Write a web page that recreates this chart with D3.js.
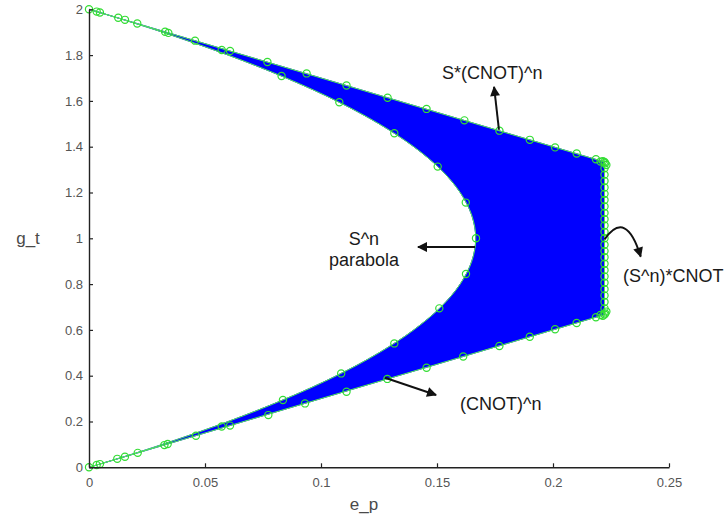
<!DOCTYPE html>
<html>
<head>
<meta charset="utf-8">
<script src="https://cdn.jsdelivr.net/npm/d3@7"></script>
<style>
	body { margin: 0; background: #fff; }
	text { font-family: "Liberation Sans", Arial, sans-serif; }
</style>
</head>
<body>
<script>
// tick values and labels
var xTicks = [0, 0.05, 0.1, 0.15, 0.2, 0.25];
var xTickLabels = ["0", "0.05", "0.1", "0.15", "0.2", "0.25"];
var yTicks = [0, 0.2, 0.4, 0.6, 0.8, 1, 1.2, 1.4, 1.6, 1.8, 2];
var yTickLabels = ["0", "0.2", "0.4", "0.6", "0.8", "1", "1.2", "1.4", "1.6", "1.8", "2"];

// outer boundary of the blue region: (CNOT)^n, (S^n)*CNOT, S*(CNOT)^n
var outerE = [0, 0.2222, 0.2222, 0];
var outerG = [0, 0.6667, 1.3333, 2];

// inner boundary: S^n parabola (from top to bottom)
var paraG = [2, 1.95, 1.9, 1.8, 1.7, 1.6, 1.5, 1.4, 1.3, 1.2, 1.1, 1.0, 0.9, 0.8, 0.7, 0.6, 0.5, 0.4, 0.3, 0.2, 0.1, 0.05, 0];
var paraE = [0, 0.0163, 0.0317, 0.06, 0.085, 0.1067, 0.125, 0.14, 0.1517, 0.16, 0.165, 0.1667, 0.165, 0.16, 0.1517, 0.14, 0.125, 0.1067, 0.085, 0.06, 0.0317, 0.0163, 0];

// green circle markers
var lowMarkE = [0, 0.0033, 0.0047, 0.0122, 0.0155, 0.021, 0.0325, 0.0339, 0.0461, 0.0572, 0.0608, 0.0773, 0.0931, 0.111, 0.1286, 0.1455, 0.1613, 0.1769, 0.19, 0.2009, 0.2102, 0.2185, 0.2215];
var lowMarkG = [0, 0.01, 0.014, 0.037, 0.046, 0.063, 0.097, 0.102, 0.138, 0.178, 0.182, 0.228, 0.279, 0.33, 0.386, 0.435, 0.484, 0.53, 0.57, 0.603, 0.63, 0.655, 0.662];
var upMarkE = [0, 0.0033, 0.0047, 0.0126, 0.0155, 0.0208, 0.0328, 0.0342, 0.0457, 0.0572, 0.0608, 0.0769, 0.0938, 0.111, 0.1287, 0.1455, 0.1618, 0.1769, 0.19, 0.2009, 0.2102, 0.2185, 0.2215];
var upMarkG = [2, 1.99, 1.986, 1.963, 1.954, 1.938, 1.902, 1.897, 1.863, 1.822, 1.818, 1.77, 1.72, 1.667, 1.614, 1.565, 1.515, 1.47, 1.43, 1.397, 1.37, 1.345, 1.337];
var paraMarkE = [0.0836, 0.1087, 0.1316, 0.151, 0.1625, 0.1668, 0.1624, 0.1503, 0.1316, 0.1079, 0.083];
var paraMarkG = [0.294, 0.41, 0.541, 0.694, 0.844, 1.0, 1.156, 1.313, 1.459, 1.594, 1.709];
var edgeMarkE = [0.2205, 0.2225, 0.223, 0.2222, 0.2222, 0.2222, 0.2222, 0.2222, 0.2222, 0.2222, 0.2222, 0.2222, 0.2222, 0.2222, 0.2222, 0.2222, 0.2222, 0.2222, 0.2222, 0.2222, 0.2222, 0.2222, 0.2222, 0.2222, 0.2222, 0.2222, 0.2222, 0.2222, 0.223, 0.2225, 0.2205];
var edgeMarkG = [0.665, 0.672, 0.68, 0.667, 0.694, 0.722, 0.75, 0.778, 0.806, 0.833, 0.861, 0.889, 0.917, 0.944, 0.972, 1.0, 1.028, 1.056, 1.083, 1.111, 1.139, 1.167, 1.194, 1.222, 1.25, 1.278, 1.306, 1.333, 1.32, 1.328, 1.335];

var config = {
	width: 726,
	height: 520,
	left: 89,
	right: 669,
	top: 9.3,
	bottom: 467.3,
	blue: "#0000ff",
	green: "#33dd33"
};

var svg = d3.select("body")
	.append("svg")
	.attr("width", config.width)
	.attr("height", config.height);

var x = d3.scaleLinear().domain([0, 0.25]).range([config.left, config.right]);
var y = d3.scaleLinear().domain([0, 2]).range([config.bottom, config.top]);

function pts(es, gs) {
	return es.map(function(e, i) { return [e, gs[i]]; });
}

// blue region = outer boundary + parabola back down
var outer = pts(outerE, outerG);
var para = pts(paraE, paraG);
var lineGen = d3.line().x(function(d) { return x(d[0]); }).y(function(d) { return y(d[1]); });
var paraGen = d3.line().x(function(d) { return x(d[0]); }).y(function(d) { return y(d[1]); }).curve(d3.curveCatmullRom);

svg.append("path")
	.attr("d", lineGen(outer) + paraGen(para).replace(/^M/, "L") + "Z")
	.attr("fill", config.blue)
	.attr("stroke", config.blue)
	.attr("stroke-width", 1);

// thin green lines along the boundaries
svg.append("path")
	.attr("d", paraGen(para))
	.attr("fill", "none")
	.attr("stroke", "#55ee55")
	.attr("stroke-width", 1);
svg.append("path")
	.attr("d", lineGen(outer))
	.attr("fill", "none")
	.attr("stroke", "#55ee55")
	.attr("stroke-width", 1);

// markers
var markers = pts(lowMarkE, lowMarkG)
	.concat(pts(upMarkE, upMarkG))
	.concat(pts(paraMarkE, paraMarkG))
	.concat(pts(edgeMarkE, edgeMarkG));

svg.append("g").selectAll("circle")
	.data(markers)
	.enter().append("circle")
	.attr("cx", function(d) { return x(d[0]); })
	.attr("cy", function(d) { return y(d[1]); })
	.attr("r", 3.6)
	.attr("fill", "none")
	.attr("stroke", config.green)
	.attr("stroke-width", 1.2);

// axes (ticks inside, MATLAB style)
var xAxis = d3.axisBottom(x).tickValues(xTicks)
	.tickFormat(function(d, i) { return xTickLabels[i]; })
	.tickSizeInner(-4).tickSizeOuter(0).tickPadding(10);
var yAxis = d3.axisLeft(y).tickValues(yTicks)
	.tickFormat(function(d, i) { return yTickLabels[i]; })
	.tickSizeInner(-4).tickSizeOuter(0).tickPadding(6);

var gx = svg.append("g").attr("transform", "translate(0," + config.bottom + ")").call(xAxis);
var gy = svg.append("g").attr("transform", "translate(" + config.left + ",0)").call(yAxis);

[gx, gy].forEach(function(g) {
	g.select(".domain").attr("stroke", "#222").attr("stroke-width", 1.4);
	g.selectAll(".tick line").attr("stroke", "#222").attr("stroke-width", 1.2);
	g.selectAll(".tick text")
		.attr("fill", "#555")
		.style("font-size", "13px")
		.style("font-family", "'Liberation Sans', Arial, sans-serif");
});

// axis labels
svg.append("text")
	.attr("x", 364).attr("y", 510)
	.attr("text-anchor", "middle")
	.attr("fill", "#4a4a4a")
	.style("font-size", "17px")
	.text("e_p");
svg.append("text")
	.attr("x", 28).attr("y", 244)
	.attr("text-anchor", "middle")
	.attr("fill", "#4a4a4a")
	.style("font-size", "17px")
	.text("g_t");

// annotations
var defs = svg.append("defs");
defs.append("marker")
	.attr("id", "head")
	.attr("viewBox", "0 0 10 10")
	.attr("refX", 9).attr("refY", 5)
	.attr("markerWidth", 6.5).attr("markerHeight", 5)
	.attr("orient", "auto")
	.attr("markerUnits", "strokeWidth")
	.append("path")
	.attr("d", "M0,0L10,5L0,10Z")
	.attr("fill", "#111");

function arrow(e1, g1, e2, g2) {
	svg.append("line")
		.attr("x1", x(e1)).attr("y1", y(g1))
		.attr("x2", x(e2)).attr("y2", y(g2))
		.attr("stroke", "#111")
		.attr("stroke-width", 2)
		.attr("marker-end", "url(#head)");
}

function label(e, g, txt, anchor) {
	svg.append("text")
		.attr("x", x(e)).attr("y", y(g))
		.attr("text-anchor", anchor)
		.attr("fill", "#1a1a1a")
		.style("font-size", "18px")
		.text(txt);
}

arrow(0.1767, 1.474, 0.1746, 1.661);
label(0.1522, 1.696, "S*(CNOT)^n", "start");

arrow(0.1664, 0.962, 0.1418, 0.962);
label(0.1185, 0.971, "S^n", "middle");
label(0.1185, 0.879, "parabola", "middle");

arrow(0.1276, 0.391, 0.1496, 0.316);
label(0.1599, 0.25, "(CNOT)^n", "start");

// curved arrow for (S^n)*CNOT
svg.append("path")
	.attr("d", "M" + x(0.2222) + "," + y(0.995) +
		"Q" + x(0.2315) + "," + y(1.13) + " " + x(0.2378) + "," + y(0.92))
	.attr("fill", "none")
	.attr("stroke", "#111")
	.attr("stroke-width", 2)
	.attr("marker-end", "url(#head)");
label(0.2302, 0.81, "(S^n)*CNOT", "start");
</script>
</body>
</html>
